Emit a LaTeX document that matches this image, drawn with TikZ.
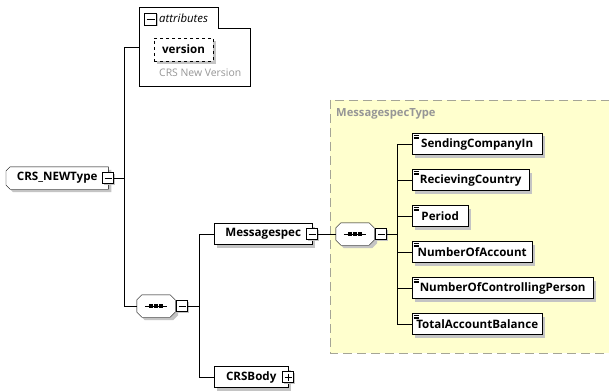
\documentclass[tikz,border=0pt]{standalone}
\usepackage{fontspec}
\setmainfont{Open Sans}
\usetikzlibrary{shadows,backgrounds}

\definecolor{typefill}{RGB}{255,255,206}
\definecolor{typeline}{RGB}{165,165,150}
\definecolor{shade}{RGB}{196,196,196}
\definecolor{note}{RGB}{150,150,150}

\tikzset{
  boldtext/.style={font=\bfseries\fontsize{11.6}{13}\selectfont},
  elem/.style={draw, fill=white, boldtext,
    minimum height=21pt, inner xsep=2pt, inner ysep=0pt,
    drop shadow={shadow xshift=3pt, shadow yshift=-3pt, fill=shade, opacity=1}},
  simple/.style={elem, anchor=west, path picture={
    \foreach \k in {0,1,2}
      \draw[line width=0.6pt] ([shift={(1.5pt,{-1.8pt-1.6pt*\k})}]path picture bounding box.north west) -- ++(5.5pt,0pt);}},
  rootbox/.style={boldtext, minimum height=22pt, inner xsep=2pt, inner ysep=0pt},
  seqbox/.style={minimum width=38pt, minimum height=22pt, inner sep=0pt},
  octo/.style={draw, fill=white,
    drop shadow={shadow xshift=3pt, shadow yshift=-3pt, fill=shade, opacity=1}},
  btn/.style={draw, fill=white, minimum size=11pt, inner sep=0pt,
    drop shadow={shadow xshift=1.5pt, shadow yshift=-1.5pt, fill=shade, opacity=1}},
  minusbtn/.style={btn, path picture={
    \draw ([xshift=2pt]path picture bounding box.west) -- ([xshift=-2pt]path picture bounding box.east);}},
  plusbtn/.style={btn, path picture={
    \draw ([xshift=2pt]path picture bounding box.west) -- ([xshift=-2pt]path picture bounding box.east);
    \draw ([yshift=-2pt]path picture bounding box.north) -- ([yshift=2pt]path picture bounding box.south);}}
}

\begin{document}
\begin{tikzpicture}[x=1pt, y=-1pt, line width=0.9pt]
    \clip (0,0) rectangle (609,390);
    \begin{pgfonlayer}{background}
    \fill[white] (0,0) rectangle (609,390);
    \draw[typeline, fill=typefill, dash pattern=on 9pt off 5pt] (330,100) rectangle (630,353);
    \end{pgfonlayer}

    \draw (139,7) -- (218,7) -- (218,28) -- (250,28) -- (250,86) -- (139,86) -- cycle;
    \node[minusbtn, minimum size=12pt] (attrbtn) at (150.5,19) {};
    \node[anchor=west, inner sep=0pt, font=\itshape\fontsize{11.4}{13}\selectfont] (attrlbl) at (159,18.5) {attributes};
    \node[elem, dashed, minimum width=59pt, minimum height=23pt] (version) at (183.5,49.5) {version};
    \node[anchor=west, inner sep=0pt, text=note, font=\fontsize{10.4}{12}\selectfont] (versiondoc) at (159,73) {CRS New Version};
    \coordinate (attrin) at (139,47);

    \node[anchor=west, inner sep=0pt, text=note, font=\bfseries\fontsize{11.2}{13}\selectfont] (mstype) at (336,114) {MessagespecType};

    \node[rootbox, anchor=west, minimum width=102pt] (root) at (6,178) {CRS\_NEWType};
    \node[minusbtn] (rootbtn) at (108,178) {};
    \node[seqbox] (seq) at (156,306) {};
    \node[minusbtn] (seqbtn) at (182,306) {};
    \node[elem, anchor=west, minimum width=98pt] (ms) at (214,234) {Messagespec};
    \node[minusbtn] (msbtn) at (312,234) {};
    \node[elem, anchor=west, minimum width=74pt] (body) at (214,377) {CRSBody};
    \node[plusbtn] (bodybtn) at (288,377) {};
    \node[seqbox] (iseq) at (355,234) {};
    \node[minusbtn] (iseqbtn) at (381,234) {};

    \node[simple, minimum width=130pt] (e1) at (412,144) {SendingCompanyIn};
    \node[simple, minimum width=117pt] (e2) at (412,180) {RecievingCountry};
    \node[simple, minimum width=56pt] (e3) at (412,216) {Period};
    \node[simple, minimum width=120pt] (e4) at (412,252) {NumberOfAccount};
    \node[simple, minimum width=181pt] (e5) at (412,288) {NumberOfControllingPerson};
    \node[simple, minimum width=130pt] (e6) at (412,324) {TotalAccountBalance};

    \begin{pgfonlayer}{background}
    \draw[octo] ([xshift=4pt]root.north west) -- (root.north east) -- (root.south east)
        -- ([xshift=4pt]root.south west) -- ([yshift=4pt]root.south west)
        -- ([yshift=-4pt]root.north west) -- cycle;
    \foreach \s in {seq,iseq}
        \draw[octo] ([xshift=5pt]\s.north west) -- ([xshift=-5pt]\s.north east)
            -- ([yshift=-5pt]\s.north east) -- ([yshift=5pt]\s.south east)
            -- ([xshift=-5pt]\s.south east) -- ([xshift=5pt]\s.south west)
            -- ([yshift=5pt]\s.south west) -- ([yshift=-5pt]\s.north west) -- cycle;
    \end{pgfonlayer}
    \foreach \s in {seq,iseq} {
        \draw ([xshift=8pt]\s.west) -- ([xshift=-8pt]\s.east);
        \foreach \k in {-5,0,5}
            \fill ([xshift=\k pt]\s.center) +(-1.7pt,-1.7pt) rectangle +(1.7pt,1.7pt);
    }

    \coordinate (trunk) at (124,0);
    \coordinate (trunkb) at (199,0);
    \coordinate (trunkc) at (397,0);
    \draw (attrin) -| (seq.west -| trunk) -- (seq.west);
    \draw (rootbtn.east) -- (rootbtn.east -| trunk);
    \draw (ms.west) -| (body.west -| trunkb) -- (body.west);
    \draw (seqbtn.east) -- (seqbtn.east -| trunkb);
    \draw (msbtn.east) -- (iseq.west);
    \draw (e1.west) -| (e6.west -| trunkc) -- (e6.west);
    \draw (iseqbtn.east) -- (iseqbtn.east -| trunkc);
    \foreach \e in {e2,e3,e4,e5}
        \draw (\e.west) -- (\e.west -| trunkc);
\end{tikzpicture}
\end{document}
